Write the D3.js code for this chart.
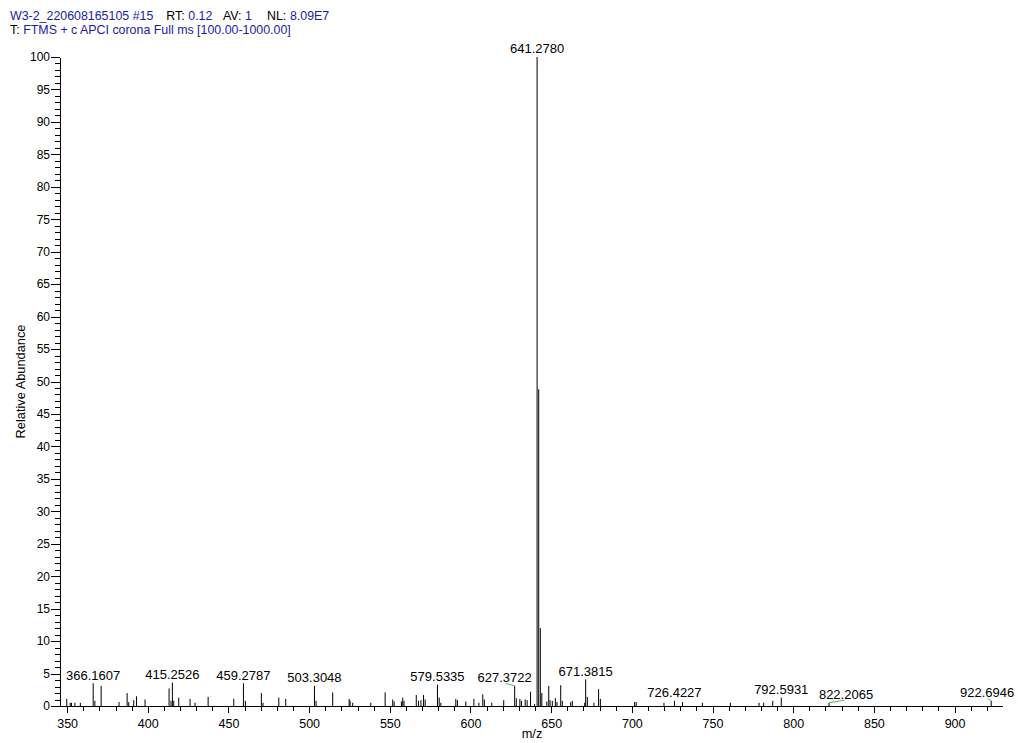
<!DOCTYPE html>
<html>
<head>
<meta charset="utf-8">
<script src="https://cdn.jsdelivr.net/npm/d3@7"></script>
<style>
    body { margin: 0; background: #fff; }
    svg { font-family: Arial, "Liberation Sans", sans-serif; }
    .axis path, .axis line { stroke: #000; shape-rendering: crispEdges; }
    .axis text { fill: #000; }
</style>
</head>
<body>
<div id="spectrum"></div>
<script>

// Labelled peaks (m/z text as printed, relative abundance)
let labelMz = [366.1607, 415.2526, 459.2787, 503.3048, 579.5335, 627.3722,
               641.2780, 671.3815, 726.4227, 792.5931, 822.2065, 922.6946];
let labelAbundance = [3.5, 3.6, 3.5, 3.1, 3.3, 3.1, 100, 4.1, 0.8, 1.3, 0.5, 0.8];

// Other (unlabelled) centroid peaks
let peakMz = [349.8, 351.9, 352.7, 354.8, 358.2, 367.2, 371.1, 382.2, 387.2, 388.2,
              391.3, 393.0, 398.3, 413.2, 414.4, 416.1, 419.2, 426.2, 429.3, 437.4,
              453.3, 460.5, 470.4, 471.4, 481.2, 485.5, 504.3, 514.6, 524.8, 525.4,
              527.0, 538.2, 547.1, 551.8, 552.7, 557.2, 558.0, 558.8, 566.4, 567.8,
              569.3, 570.9, 571.9, 580.6, 581.6, 590.9, 591.9, 597.1, 602.1, 605.2,
              607.6, 608.6, 613.2, 620.6, 628.4, 630.6, 631.6, 633.9, 635.1, 637.2,
              639.7, 642.28, 643.28, 644.2, 647.3, 648.5, 649.3, 650.7, 652.6, 653.6,
              655.9, 656.9, 662.1, 663.1, 670.8, 672.4, 676.5, 679.4, 680.5, 701.7,
              702.7, 719.9, 731.4, 743.7, 761.1, 778.8, 781.7, 787.3];
let peakAbundance = [1.1, 0.5, 0.5, 0.5, 0.5, 0.8, 3.1, 0.6, 2.0, 0.6,
                     0.9, 1.5, 1.0, 2.7, 0.8, 0.8, 1.3, 1.1, 0.5, 1.4,
                     1.1, 0.8, 2.0, 0.5, 1.3, 1.1, 0.8, 2.1, 1.1, 0.8,
                     0.5, 0.5, 2.1, 1.0, 0.7, 0.7, 1.3, 0.8, 1.7, 0.8,
                     0.9, 1.7, 1.0, 1.3, 0.5, 1.1, 0.9, 0.7, 1.1, 0.5,
                     1.8, 1.0, 0.5, 0.9, 1.2, 1.1, 0.8, 1.0, 0.9, 2.2,
                     0.3, 48.8, 12.0, 2.0, 0.7, 3.1, 0.9, 0.8, 1.2, 0.6,
                     3.2, 0.8, 0.6, 0.8, 0.5, 1.4, 0.5, 2.6, 1.1, 0.6,
                     0.6, 0.5, 0.6, 0.5, 0.5, 0.5, 0.5, 0.8];

let xMajorTicks = d3.range(350, 901, 50);
let xMinorTicks = d3.range(350, 921, 10);
let yMajorTicks = d3.range(0, 101, 5);
let yMinorTicks = d3.range(0, 101, 1);

// header fields: [text, colour]
let headerLine1 = [["W3-2_220608165105 #15", "blue"], ["RT:", "k"], ["0.12", "blue"],
                   ["AV:", "k"], ["1", "blue"], ["NL:", "k"], ["8.09E7", "blue"]];
let headerLine2 = [["T:", "k"], ["FTMS + c APCI corona Full ms [100.00-1000.00]", "blue"]];

// labels that the software pushed aside (pixel nudges, drawn with a green leader)
let labelNudge = { "627.3722": -10, "822.2065": 17, "922.6946": -4 };

var width = 1018, height = 743;
var blue = "#1c1ca0";

var svg = d3.select("#spectrum").append("svg")
    .attr("width", width)
    .attr("height", height);

// Scales
var x = d3.scaleLinear().domain([345.6, 929.4]).range([60, 1002]);
var y = d3.scaleLinear().domain([0, 100]).range([706, 57]);

// Header: each field its own text, laid out left to right
function header(line, yPos, gaps) {
    var cx = 10;
    line.forEach(function(p, i) {
        var t = svg.append("text")
            .attr("x", cx).attr("y", yPos)
            .style("font-size", "12.4px")
            .attr("fill", p[1] === "blue" ? blue : "#000")
            .text(p[0]);
        cx += t.node().getComputedTextLength() + gaps[i % gaps.length];
    });
}
header(headerLine1, 19.6, [13, 3.6, 10.5, 3.6, 15, 3.6, 0]);
header(headerLine2, 34, [3.6]);

// Peaks
var allPeaks = peakMz.map((m, i) => ({ mz: m, ab: peakAbundance[i] }))
    .concat(labelMz.map((m, i) => ({ mz: m, ab: labelAbundance[i] })));

svg.append("g").selectAll("line")
    .data(allPeaks)
    .enter().append("line")
    .attr("x1", d => x(d.mz)).attr("x2", d => x(d.mz))
    .attr("y1", y(0)).attr("y2", d => y(d.ab))
    .attr("stroke", "#000")
    .attr("stroke-width", 1);

// Axes (major + minor ticks)
svg.append("g").attr("class", "axis")
    .attr("transform", "translate(0," + y(0) + ")")
    .call(d3.axisBottom(x).tickValues(xMinorTicks).tickSize(5).tickSizeOuter(0).tickFormat(""));
svg.append("g").attr("class", "axis")
    .attr("transform", "translate(0," + y(0) + ")")
    .call(d3.axisBottom(x).tickValues(xMajorTicks).tickSize(7).tickSizeOuter(0).tickPadding(6))
    .selectAll("text").style("font-size", "12.5px");

svg.append("g").attr("class", "axis")
    .attr("transform", "translate(60,0)")
    .call(d3.axisLeft(y).tickValues(yMinorTicks).tickSize(5).tickSizeOuter(0).tickFormat(""));
svg.append("g").attr("class", "axis")
    .attr("transform", "translate(60,0)")
    .call(d3.axisLeft(y).tickValues(yMajorTicks).tickSize(9).tickSizeOuter(0).tickPadding(1))
    .selectAll("text").style("font-size", "12px");

// Axis titles
svg.append("text")
    .attr("transform", "translate(25,381.5) rotate(-90)")
    .attr("text-anchor", "middle")
    .style("font-size", "12.8px")
    .text("Relative Abundance");

svg.append("text")
    .attr("x", 532).attr("y", 738)
    .attr("text-anchor", "middle")
    .style("font-size", "12.8px")
    .text("m/z");

// Peak labels
var labels = labelMz.map((m, i) => ({ mz: m, ab: labelAbundance[i], txt: m.toFixed(4) }));

labels.forEach(function(d) {
    var px = x(d.mz), py = y(d.ab);
    var dx = labelNudge[d.txt] || 0;
    var gap = d.ab >= 100 ? 4.5 : 3.5;
    svg.append("text")
        .attr("x", px + dx).attr("y", py - gap)
        .attr("text-anchor", "middle")
        .style("font-size", "13px")
        .text(d.txt);
    if (dx) {
        svg.append("line")
            .attr("x1", px).attr("y1", py)
            .attr("x2", px + dx * 0.9).attr("y2", py - 2.5)
            .attr("stroke", "#4cbb4c")
            .attr("stroke-width", 1);
    }
});

</script>
</body>
</html>
